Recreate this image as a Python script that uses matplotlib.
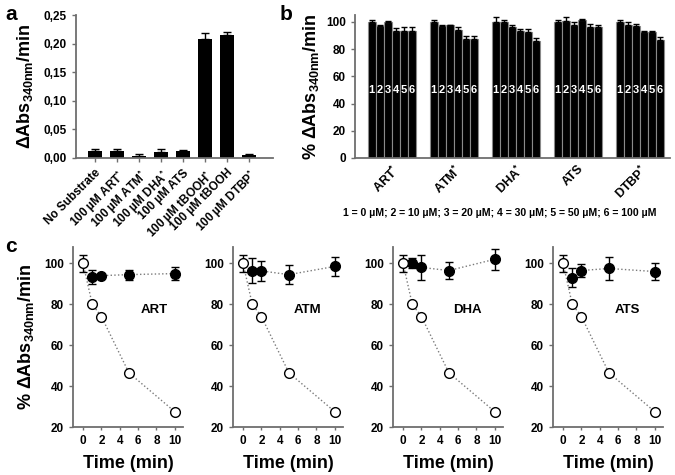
import numpy as np
import matplotlib
matplotlib.use("Agg")
import matplotlib.pyplot as plt

plt.rcParams['font.family'] = ['Liberation Sans', 'DejaVu Sans']
plt.rcParams['font.weight'] = 'bold'
plt.rcParams['mathtext.fontset'] = 'custom'
plt.rcParams['mathtext.rm'] = 'Liberation Sans:bold'
plt.rcParams['mathtext.it'] = 'Liberation Sans:bold'
plt.rcParams['mathtext.bf'] = 'Liberation Sans:bold'
plt.rcParams['mathtext.default'] = 'rm'

AXIS_GRAY = '#6e6e6e'

# ---- panel a data ----
a_labels = ['No Substrate', '100 µM ART$^{*}$', '100 µM ATM$^{*}$', '100 µM DHA$^{*}$',
            '100 µM ATS', '100 µM tBOOH$^{*}$', '100 µM tBOOH', '100 µM DTBP$^{*}$']
a_values = [0.012, 0.013, 0.004, 0.011, 0.012, 0.208, 0.215, 0.005]
a_errors = [0.003, 0.002, 0.003, 0.005, 0.002, 0.011, 0.006, 0.002]

# ---- panel b data ----
b_groups = ['ART$^{*}$', 'ATM$^{*}$', 'DHA$^{*}$', 'ATS', 'DTBP$^{*}$']
b_values = [
    [99.5, 97.0, 99.5, 93.0, 93.0, 93.0],
    [99.5, 97.0, 97.5, 94.0, 87.5, 87.5],
    [99.5, 99.5, 96.0, 93.5, 92.5, 86.0],
    [99.5, 100.5, 97.5, 101.0, 96.0, 96.5],
    [99.5, 98.0, 97.0, 92.5, 92.5, 87.0],
]
b_errors = [
    [2.0, 1.0, 1.0, 2.5, 3.0, 3.0],
    [1.5, 1.0, 0.5, 2.5, 2.0, 2.0],
    [4.0, 2.0, 2.0, 1.5, 2.0, 2.0],
    [2.0, 3.0, 2.5, 1.0, 2.5, 1.0],
    [2.0, 2.0, 1.5, 1.0, 1.0, 2.0],
]
b_bar_numbers = ['1', '2', '3', '4', '5', '6']
b_legend = '1 = 0 µM; 2 = 10 µM; 3 = 20 µM; 4 = 30 µM; 5 = 50 µM; 6 = 100 µM'

# ---- panel c data ----
c_names = ['ART', 'ATM', 'DHA', 'ATS']
c_time_open = [0, 1, 2, 5, 10]
c_open = [100, 80, 74, 46.5, 27.5]
c_open_err = [4, 0, 0, 0, 0]
c_time_filled = [1, 2, 5, 10]
c_filled = [
    [93.5, 94.0, 94.5, 95.0],
    [96.5, 96.3, 94.5, 98.5],
    [100.3, 98.0, 96.5, 102.0],
    [93.0, 96.5, 97.5, 96.0],
]
c_filled_err = [
    [3.5, 1.0, 2.5, 3.0],
    [6.0, 5.0, 4.5, 4.5],
    [2.5, 6.0, 4.0, 5.0],
    [4.5, 3.0, 5.5, 4.0],
]
c_label_x = [7.8, 7.0, 7.0, 7.0]


def style_axes(ax):
    for side in ['top', 'right']:
        ax.spines[side].set_visible(False)
    for side in ['left', 'bottom']:
        ax.spines[side].set_color(AXIS_GRAY)
        ax.spines[side].set_linewidth(1.3)
    ax.tick_params(colors=AXIS_GRAY, labelcolor='black', width=1.0, length=3,
                   labelsize=8.5)
    for lab in ax.get_xticklabels() + ax.get_yticklabels():
        lab.set_fontweight('bold')


fig = plt.figure(figsize=(6.75, 4.75), dpi=100)

# ---------------- panel a ----------------
ax_a = fig.add_axes([76 / 675, 1 - 158 / 475, 197 / 675, 143 / 475])
xa = np.arange(len(a_values))
ax_a.bar(xa, a_values, width=0.63, color='black',
         yerr=[np.zeros(len(a_errors)), a_errors],
         error_kw=dict(ecolor='black', elinewidth=1.0, capsize=3, capthick=1.0))
ax_a.set_xlim(-0.86, len(a_values) - 1 + 1.09)
ax_a.set_ylim(0, 0.25)
ax_a.set_yticks([0, 0.05, 0.10, 0.15, 0.20, 0.25])
ax_a.set_yticklabels(['0,00', '0,05', '0,10', '0,15', '0,20', '0,25'])
ax_a.set_xticks(xa)
ax_a.set_xticklabels(a_labels, rotation=45, ha='right', rotation_mode='anchor')
ax_a.set_ylabel('ΔAbs$_{340nm}$/min', fontsize=13, fontweight='bold', labelpad=6)
style_axes(ax_a)
fig.text(0.008, 0.97, 'a', fontsize=15, fontweight='bold', va='center')

# ---------------- panel b ----------------
ax_b = fig.add_axes([355 / 675, 1 - 158 / 475, 315 / 675, 143 / 475])
period = 7.75
group_centers = []
for g, (vals, errs) in enumerate(zip(b_values, b_errors)):
    xs = g * period + np.arange(len(vals))
    ax_b.bar(xs, vals, width=1.0, color='black', edgecolor='#8a8a8a', linewidth=0.8,
             yerr=[np.zeros(len(errs)), errs],
             error_kw=dict(ecolor='black', elinewidth=1.0, capsize=2.5, capthick=1.0))
    for x, num in zip(xs, b_bar_numbers):
        ax_b.text(x, 50, num, color='white', fontsize=8, fontweight='bold',
                  ha='center', va='center')
    group_centers.append(g * period + (len(vals) - 1) / 2)
ax_b.set_xlim(-2.1, 37.3)
ax_b.set_ylim(0, 105)
ax_b.set_yticks([0, 20, 40, 60, 80, 100])
ax_b.set_xticks(group_centers)
ax_b.set_xticklabels(b_groups, rotation=45, ha='right', rotation_mode='anchor')
ax_b.set_ylabel('% ΔAbs$_{340nm}$/min', fontsize=13, fontweight='bold', labelpad=4)
style_axes(ax_b)
ax_b.tick_params(axis='x', length=0, labelsize=9)
fig.text(500 / 675, 1 - 213 / 475, b_legend, fontsize=7.6, fontweight='bold',
         ha='center', va='center')
fig.text(0.414, 0.97, 'b', fontsize=15, fontweight='bold', va='center')

# ---------------- panel c ----------------
c_lefts = [73, 233, 393, 553]
for k, name in enumerate(c_names):
    ax = fig.add_axes([c_lefts[k] / 675, 1 - 427 / 475, 110 / 675, 180 / 475])
    ax.plot(c_time_open, c_open, linestyle=':', color='#7a7a7a', linewidth=1.0, zorder=1)
    ax.plot(c_time_filled, c_filled[k], linestyle=':', color='#7a7a7a', linewidth=1.0, zorder=1)
    ax.errorbar(c_time_filled, c_filled[k], yerr=c_filled_err[k], fmt='o',
                color='black', markersize=7, ecolor='black', elinewidth=1.0,
                capsize=3, capthick=1.0, zorder=3)
    ax.errorbar(c_time_open, c_open, yerr=c_open_err, fmt='o', mfc='white',
                mec='black', mew=1.0, markersize=7, ecolor='black', elinewidth=1.0,
                capsize=3, capthick=1.0, zorder=4)
    ax.text(c_label_x[k], 77, name, fontsize=9.5, fontweight='bold', ha='center',
            va='center')
    ax.set_xlim(-1.1, 10.9)
    ax.set_ylim(20, 108)
    ax.set_xticks([0, 2, 4, 6, 8, 10])
    ax.set_yticks([20, 40, 60, 80, 100])
    ax.set_xlabel('Time (min)', fontsize=13, fontweight='bold', labelpad=6)
    if k == 0:
        ax.set_ylabel('% ΔAbs$_{340nm}$/min', fontsize=13, fontweight='bold', labelpad=6)
    style_axes(ax)
    ax.tick_params(axis='x', length=2)
fig.text(0.008, 1 - 246 / 475, 'c', fontsize=15, fontweight='bold', va='center')

fig.savefig('out.png', dpi=100)
